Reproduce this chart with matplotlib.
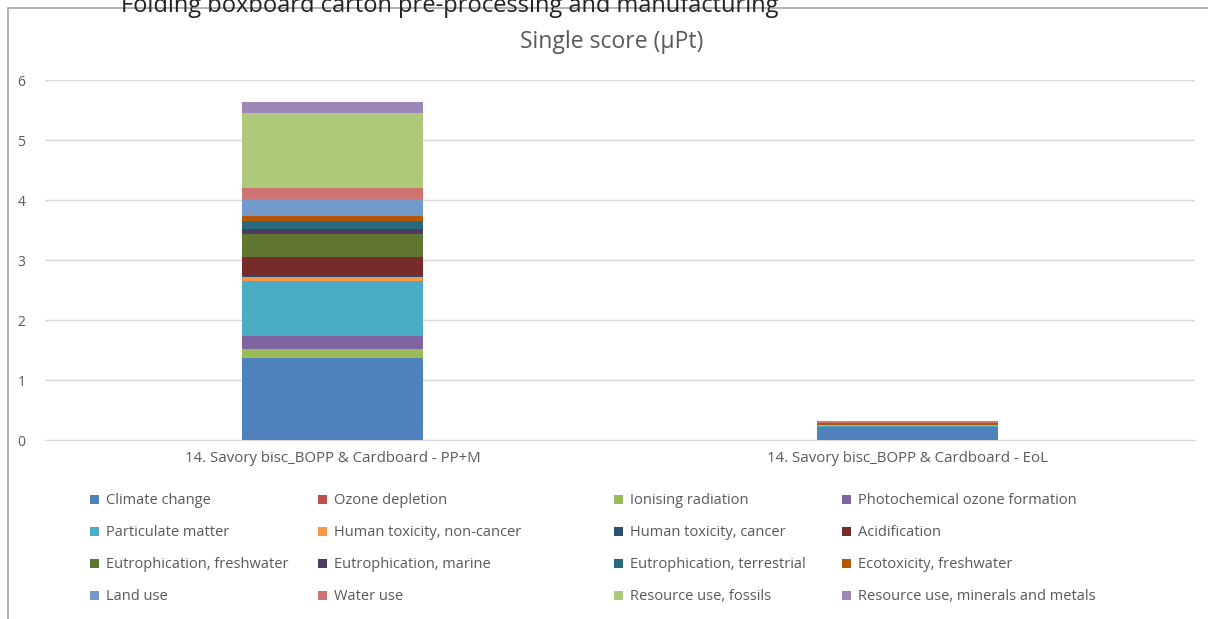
import matplotlib.pyplot as plt
from matplotlib.patches import Rectangle
import numpy as np

plt.rcParams['font.family'] = ['Open Sans', 'DejaVu Sans']

# data
categories = ["14. Savory bisc_BOPP & Cardboard - PP+M",
              "14. Savory bisc_BOPP & Cardboard - EoL"]

impacts = ["Climate change", "Ozone depletion", "Ionising radiation",
           "Photochemical ozone formation", "Particulate matter",
           "Human toxicity, non-cancer", "Human toxicity, cancer", "Acidification",
           "Eutrophication, freshwater", "Eutrophication, marine",
           "Eutrophication, terrestrial", "Ecotoxicity, freshwater",
           "Land use", "Water use", "Resource use, fossils",
           "Resource use, minerals and metals"]

pp_m = [1.37, 0.002, 0.145, 0.217, 0.917, 0.067, 0.02, 0.31,
        0.378, 0.095, 0.122, 0.09, 0.29, 0.17, 1.255, 0.19]
eol = [0.215, 0.0, 0.003, 0.004, 0.005, 0.015, 0.002, 0.003,
       0.003, 0.002, 0.003, 0.03, 0.004, 0.004, 0.008, 0.01]

colors = ["#4F81BD", "#C0504D", "#9BBB59", "#8064A2", "#4BACC6", "#F79646",
          "#2C4D75", "#772C2A", "#5F7530", "#4D3B62", "#276A7C", "#B65708",
          "#729ACA", "#CD7371", "#AFC97A", "#9C87B8"]

fig = plt.figure(figsize=(12.08, 6.19), dpi=100)
W, H = 1208, 619

# chart border (cut at right/bottom like the screenshot)
fig.patches.append(Rectangle((8 / W, -0.1), 1.2, 1 - 8 / H + 0.1, transform=fig.transFigure,
                             fill=False, edgecolor="#A6A6A6", linewidth=1.2))

# heading above the chart, cut by the top edge of the screenshot
fig.text(450 / W, 1 - 12 / H, "Folding boxboard carton pre-processing and manufacturing",
         ha="center", va="baseline", fontsize=17, color="#222222")

ax = fig.add_axes([45 / W, 1 - 440 / H, (1195 - 45) / W, 360 / H])
x = np.arange(len(categories))
bottom = np.zeros(len(categories))
for name, a, b, c in zip(impacts, pp_m, eol, colors):
    vals = np.array([a, b])
    ax.bar(x, vals, width=0.314, bottom=bottom, color=c, label=name)
    bottom += vals

ax.set_xlim(-0.5, 1.5)
ax.set_ylim(0, 6)
ax.set_yticks(range(0, 7))
ax.yaxis.grid(True, color="#D9D9D9", linewidth=1)
ax.set_axisbelow(True)
for s in ["top", "right", "left"]:
    ax.spines[s].set_visible(False)
ax.spines["bottom"].set_color("#D9D9D9")
ax.tick_params(axis="both", length=0, colors="#595959", labelsize=10)
ax.tick_params(axis="y", pad=14)
ax.set_xticks(x)
ax.set_xticklabels(categories, fontsize=10.8)
ax.tick_params(axis="x", pad=8)

fig.text(612 / W, 1 - 42 / H, "Single score (µPt)", ha="center", va="center",
         fontsize=16.5, color="#595959")

# legend, 4 columns like the Excel layout
col_x = [91, 319, 615, 843]
row_y = [500, 532, 564, 596]
for i, (name, c) in enumerate(zip(impacts, colors)):
    cx = col_x[i % 4]
    cy = row_y[i // 4]
    fig.patches.append(Rectangle(((cx - 1) / W, 1 - (cy + 4) / H), 9 / W, 9 / H,
                                 transform=fig.transFigure, facecolor=c, edgecolor="none"))
    fig.text((cx + 15) / W, 1 - cy / H, name, ha="left", va="center",
             fontsize=10.5, color="#595959")

fig.savefig("out.png", dpi=100)
